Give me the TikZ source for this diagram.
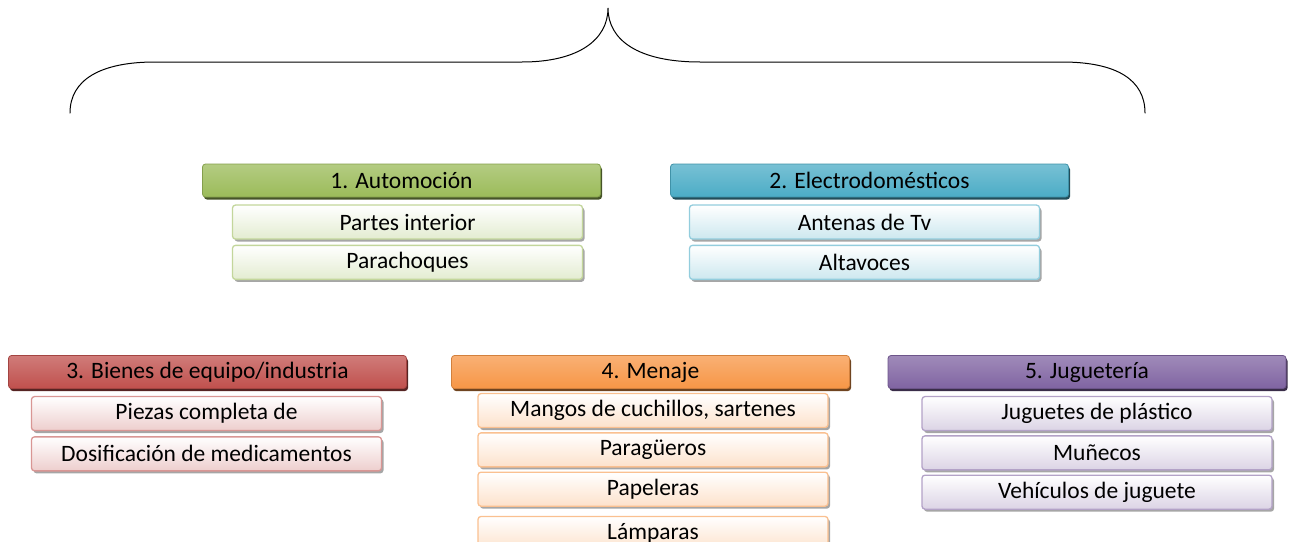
\documentclass[tikz,border=0pt]{standalone}
\usepackage{fontspec}
\setmainfont{Carlito}
\usetikzlibrary{positioning, shadows}

\definecolor{autogreen}{HTML}{9BBB59}
\definecolor{elecblue}{HTML}{4BACC6}
\definecolor{indred}{HTML}{C0504D}
\definecolor{menorange}{HTML}{F79646}
\definecolor{jugpurple}{HTML}{8064A2}

\tikzset{
  catbox/.style={draw=#1!85!black, line width=0.8pt, rounded corners=3pt,
    minimum width=398pt, minimum height=33pt, inner sep=0pt,
    top color=#1!75!white, bottom color=#1,
    drop shadow={shadow xshift=1.5pt, shadow yshift=-2.5pt, fill=#1!45!black, opacity=1}},
  itembox/.style={draw=#1!60!white, line width=1.3pt, rounded corners=3pt,
    minimum width=350pt, minimum height=34pt, inner sep=0pt,
    top color=white, bottom color=#1!28!white,
    drop shadow={shadow xshift=2pt, shadow yshift=-2.5pt, fill=black!35, opacity=1}},
  every node/.style={font=\fontsize{23.5}{26}\selectfont, text=black}
}

\begin{document}
\begin{tikzpicture}[x=1pt, y=-1pt]
  \useasboundingbox (0,0) rectangle (1290,541);
  \clip (0,0) rectangle (1290,541);

  % brace
  \draw[line width=1pt, line cap=round]
    (70,113) .. controls (70,80) and (100,62) .. (155,62) -- (522,62)
    .. controls (578,62) and (608,40) .. (608,8)
    .. controls (608,40) and (638,62) .. (700,62) -- (1062,62)
    .. controls (1117,62) and (1145,80) .. (1145,113);

  % 1. Automocion
  \node[catbox=autogreen] (auto) at (401.5,180.5) {1. Automoción};
  \node[itembox=autogreen, below=7pt of auto, xshift=6pt] (auto1) {Partes interior};
  \node[itembox=autogreen, below=5pt of auto1] (auto2) {Parachoques};

  % 2. Electrodomesticos
  \node[catbox=elecblue] (elec) at (869.5,180.5) {2. Electrodomésticos};
  \node[itembox=elecblue, below=7pt of elec, xshift=-5pt] (elec1) {Antenas de Tv};
  \node[itembox=elecblue, below=5pt of elec1] (elec2) {Altavoces};

  % 3. Bienes de equipo
  \node[catbox=indred] (ind) at (207.5,372) {3. Bienes de equipo/industria};
  \node[itembox=indred, below=7pt of ind, xshift=-1pt] (ind1) {Piezas completa de};
  \node[itembox=indred, below=5pt of ind1] (ind2) {Dosificación de medicamentos};

  % 4. Menaje
  \node[catbox=menorange] (men) at (650.5,372) {4. Menaje};
  \node[itembox=menorange, below=4pt of men, xshift=2.5pt] (men1) {Mangos de cuchillos, sartenes};
  \node[itembox=menorange, below=4pt of men1] (men2) {Paragüeros};
  \node[itembox=menorange, below=4pt of men2] (men3) {Papeleras};
  \node[itembox=menorange, below=9pt of men3] (men4) {Lámparas};

  % 5. Jugueteria
  \node[catbox=jugpurple] (jug) at (1087,372) {5. Juguetería};
  \node[itembox=jugpurple, below=7pt of jug, xshift=10pt] (jug1) {Juguetes de plástico};
  \node[itembox=jugpurple, below=4pt of jug1] (jug2) {Muñecos};
  \node[itembox=jugpurple, below=4pt of jug2] (jug3) {Vehículos de juguete};
\end{tikzpicture}
\end{document}
